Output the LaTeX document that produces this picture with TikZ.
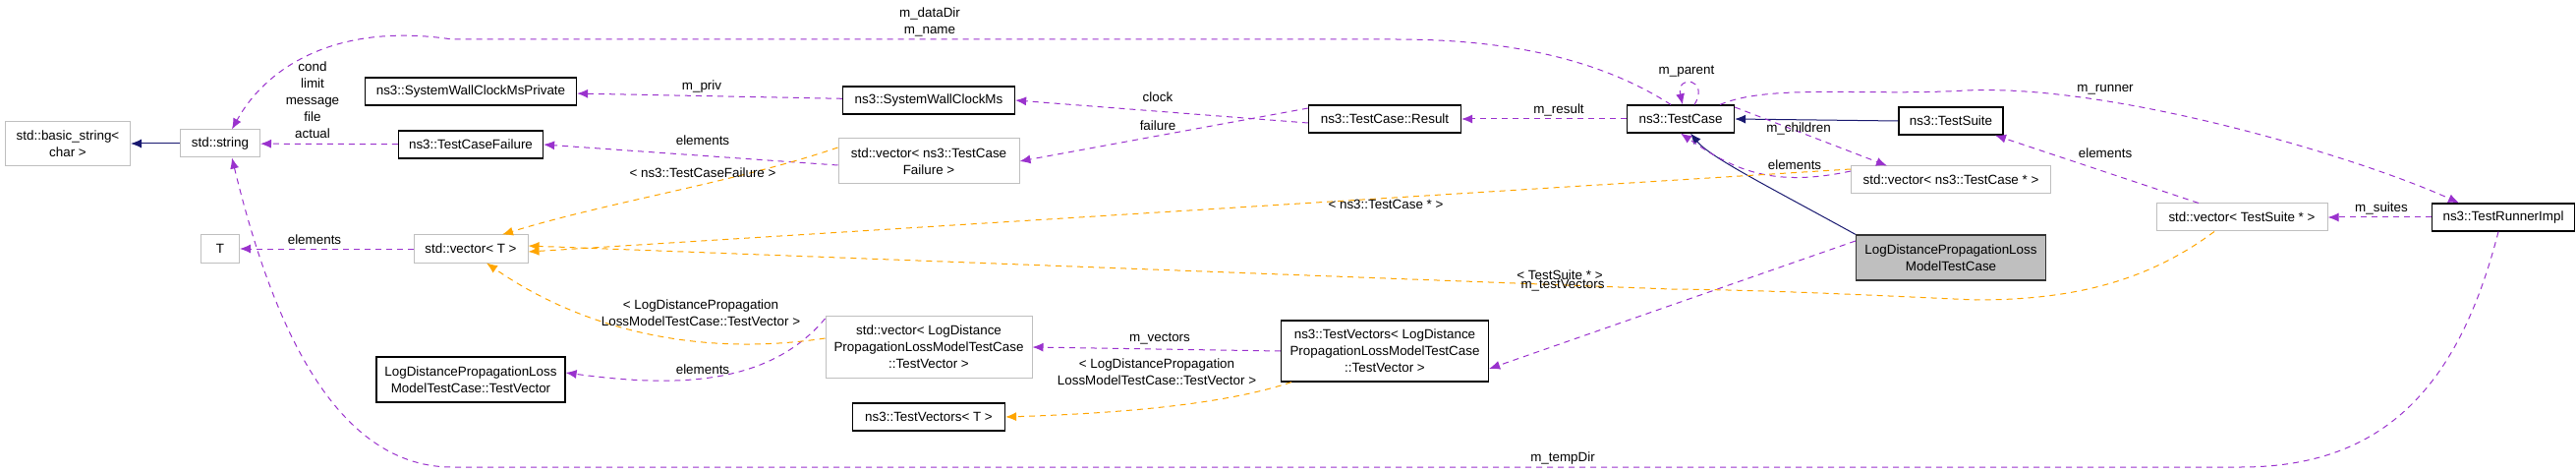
\documentclass[tikz,border=0pt]{standalone}
\usepackage{fontspec}
\setmainfont{Liberation Sans}
\usetikzlibrary{arrows.meta}
\definecolor{usecol}{HTML}{9A32CD}
\definecolor{tplcol}{HTML}{FFA500}
\definecolor{inhcol}{HTML}{191970}
\definecolor{extcol}{HTML}{BFBFBF}
\begin{document}
\begin{tikzpicture}[x=1pt,y=-1pt,
  every node/.style={font=\fontsize{13.4}{17}\selectfont,align=center,inner sep=0pt},
  cls/.style={draw=black,line width=1.2pt,fill=white,minimum height=28},
  ext/.style={draw=extcol,line width=1pt,fill=white,minimum height=28},
  cur/.style={draw=black!80,line width=1.2pt,fill=extcol,minimum height=46},
  inh/.style={draw=inhcol,line width=1pt,-{Latex[length=11pt,width=9pt]}},
  use/.style={draw=usecol,line width=1pt,dash pattern=on 6pt off 5pt,-{Latex[length=11pt,width=9pt]}},
  tpl/.style={draw=tplcol,line width=1pt,dash pattern=on 6pt off 5pt,-{Latex[length=11pt,width=9pt]}},
  lbl/.style={fill=none}]
\useasboundingbox (0,0) rectangle (2621,481);

% classes
\node[ext,minimum width=127,minimum height=45] (bstr) at (69,146) {std::basic\_string\textless\\char \textgreater};
\node[ext,minimum width=81] (str) at (224,146) {std::string};
\node[cls,minimum width=215] (swcp) at (479,93) {ns3::SystemWallClockMsPrivate};
\node[cls,minimum width=147] (tcf) at (479,147) {ns3::TestCaseFailure};
\node[ext,minimum width=39] (t) at (224,253) {T};
\node[ext,minimum width=116] (vt) at (479,253) {std::vector\textless\ T \textgreater};
\node[cls,minimum width=192,minimum height=46] (tv) at (479,386) {LogDistancePropagationLoss\\ModelTestCase::TestVector};
\node[cls,minimum width=175] (swc) at (945,102) {ns3::SystemWallClockMs};
\node[ext,minimum width=184,minimum height=46] (vtcf) at (945,164) {std::vector\textless\ ns3::TestCase\\Failure \textgreater};
\node[ext,minimum width=210,minimum height=63] (vtv) at (945,353) {std::vector\textless\ LogDistance\\PropagationLossModelTestCase\\::TestVector \textgreater};
\node[cls,minimum width=155] (tvst) at (945,424) {ns3::TestVectors\textless\ T \textgreater};
\node[cls,minimum width=155] (res) at (1409,121) {ns3::TestCase::Result};
\node[cls,minimum width=211,minimum height=62] (tvld) at (1409,357) {ns3::TestVectors\textless\ LogDistance\\PropagationLossModelTestCase\\::TestVector \textgreater};
\node[cls,minimum width=109] (tc) at (1710,121) {ns3::TestCase};
\node[cls,minimum width=106] (ts) at (1985,123) {ns3::TestSuite};
\node[ext,minimum width=203] (vtc) at (1985,183) {std::vector\textless\ ns3::TestCase * \textgreater};
\node[cur,minimum width=193] (ldtc) at (1985,262) {LogDistancePropagationLoss\\ModelTestCase};
\node[ext,minimum width=174] (vts) at (2281,221) {std::vector\textless\ TestSuite * \textgreater};
\node[cls,minimum width=145] (tri) at (2547,221) {ns3::TestRunnerImpl};

% inheritance
\draw[inh] (str) -- (bstr);
\draw[inh] (ts.west) -- (tc.east);
\draw[inh] (ldtc.north west) .. controls (1800,190) and (1740,160) .. ([xshift=10]tc.south);

% usage
\draw[use] (tcf) -- (str);
\draw[use] (swc) -- (swcp);
\draw[use] ([yshift=-4]vtcf.west) -- (tcf.east);
\draw[use] (vt) -- (t);
\draw[use] ([yshift=-4]res.west) -- (swc.east);
\draw[use] ([yshift=11]res.west) -- (vtcf.east);
\draw[use] (tc) -- (res);
\draw[use] ([xshift=-10]tc.north) .. controls (1620,55) and (1520,40) .. (1420,40) -- (460,40)
  .. controls (340,22) and (270,70) .. ([xshift=12]str.north);
\draw[use] ([xshift=14]tc.north) .. controls (1740,80) and (1705,75) .. ([xshift=2]tc.north);
\draw[use] ([xshift=40]tc.north) .. controls (1800,85) and (1900,98) .. (2000,92)
  .. controls (2150,85) and (2400,160) .. ([xshift=-45]tri.north);
\draw[use] ([yshift=12]tc.east) -- ([xshift=-65]vtc.north);
\draw[use] ([yshift=9]vtc.west) .. controls (1800,192) and (1760,170) .. ([xshift=0]tc.south);
\draw[use] ([xshift=-44]vts.north) -- ([xshift=45]ts.south);
\draw[use] (tri) -- (vts);
\draw[use] ([xshift=-5]tri.south) .. controls (2500,400) and (2420,475) .. (2280,475) -- (460,475)
  .. controls (330,475) and (270,300) .. ([xshift=12]str.south);
\draw[use] ([yshift=17]ldtc.west) -- ([yshift=-18]tvld.east);
\draw[use] (tvld.west) -- (vtv.east);
\draw[use] ([yshift=29]vtv.west) .. controls (780,395) and (680,393) .. ([yshift=7]tv.east);

% templates
\draw[tpl] ([yshift=14]vtcf.west) .. controls (750,185) and (620,205) .. ([xshift=32]vt.north);
\draw[tpl] ([yshift=11]vtc.west) -- ([yshift=-3]vt.east);
\draw[tpl] ([xshift=-28]vts.south) .. controls (2180,290) and (2100,305) .. (2010,305)
  .. controls (1900,300) and (1800,295) .. (1700,294) -- ([yshift=3]vt.east);
\draw[tpl] ([yshift=9]vtv.west) .. controls (720,362) and (600,340) .. ([xshift=16]vt.south);
\draw[tpl] ([xshift=-95]tvld.south) .. controls (1250,410) and (1150,420) .. (tvst.east);

% labels
\node[lbl] (lstr) at (318,102) {cond\\limit\\message\\file\\actual};
\node[lbl] (lpriv) at (714,88) {m\_priv};
\node[lbl] (lelf) at (715,143) {elements};
\node[lbl] (ltcf) at (715,176) {\textless\ ns3::TestCaseFailure \textgreater};
\node[lbl] (lelt) at (320,244) {elements};
\node[lbl] (lldv) at (713,318) {\textless\ LogDistancePropagation\\LossModelTestCase::TestVector \textgreater};
\node[lbl] (leltv) at (715,376) {elements};
\node[lbl] (lclk) at (1178,99) {clock};
\node[lbl] (lfail) at (1178,128) {failure};
\node[lbl] (lname) at (946,22) {m\_dataDir\\m\_name};
\node[lbl] (lvec) at (1180,344) {m\_vectors};
\node[lbl] (lldv2) at (1177,378) {\textless\ LogDistancePropagation\\LossModelTestCase::TestVector \textgreater};
\node[lbl] (lres) at (1586,112) {m\_result};
\node[lbl] (ltcp) at (1410,208) {\textless\ ns3::TestCase * \textgreater};
\node[lbl] (ltsp) at (1587,280) {\textless\ TestSuite * \textgreater};
\node[lbl] (ltv) at (1590,290) {m\_testVectors};
\node[lbl] (ltmp) at (1590,466) {m\_tempDir};
\node[lbl] (lpar) at (1716,73) {m\_parent};
\node[lbl] (lchi) at (1830,131) {m\_children};
\node[lbl] (lelc) at (1826,168) {elements};
\node[lbl] (lrun) at (2142,91) {m\_runner};
\node[lbl] (lels) at (2142,156) {elements};
\node[lbl] (lsui) at (2423,212) {m\_suites};
\end{tikzpicture}
\end{document}
